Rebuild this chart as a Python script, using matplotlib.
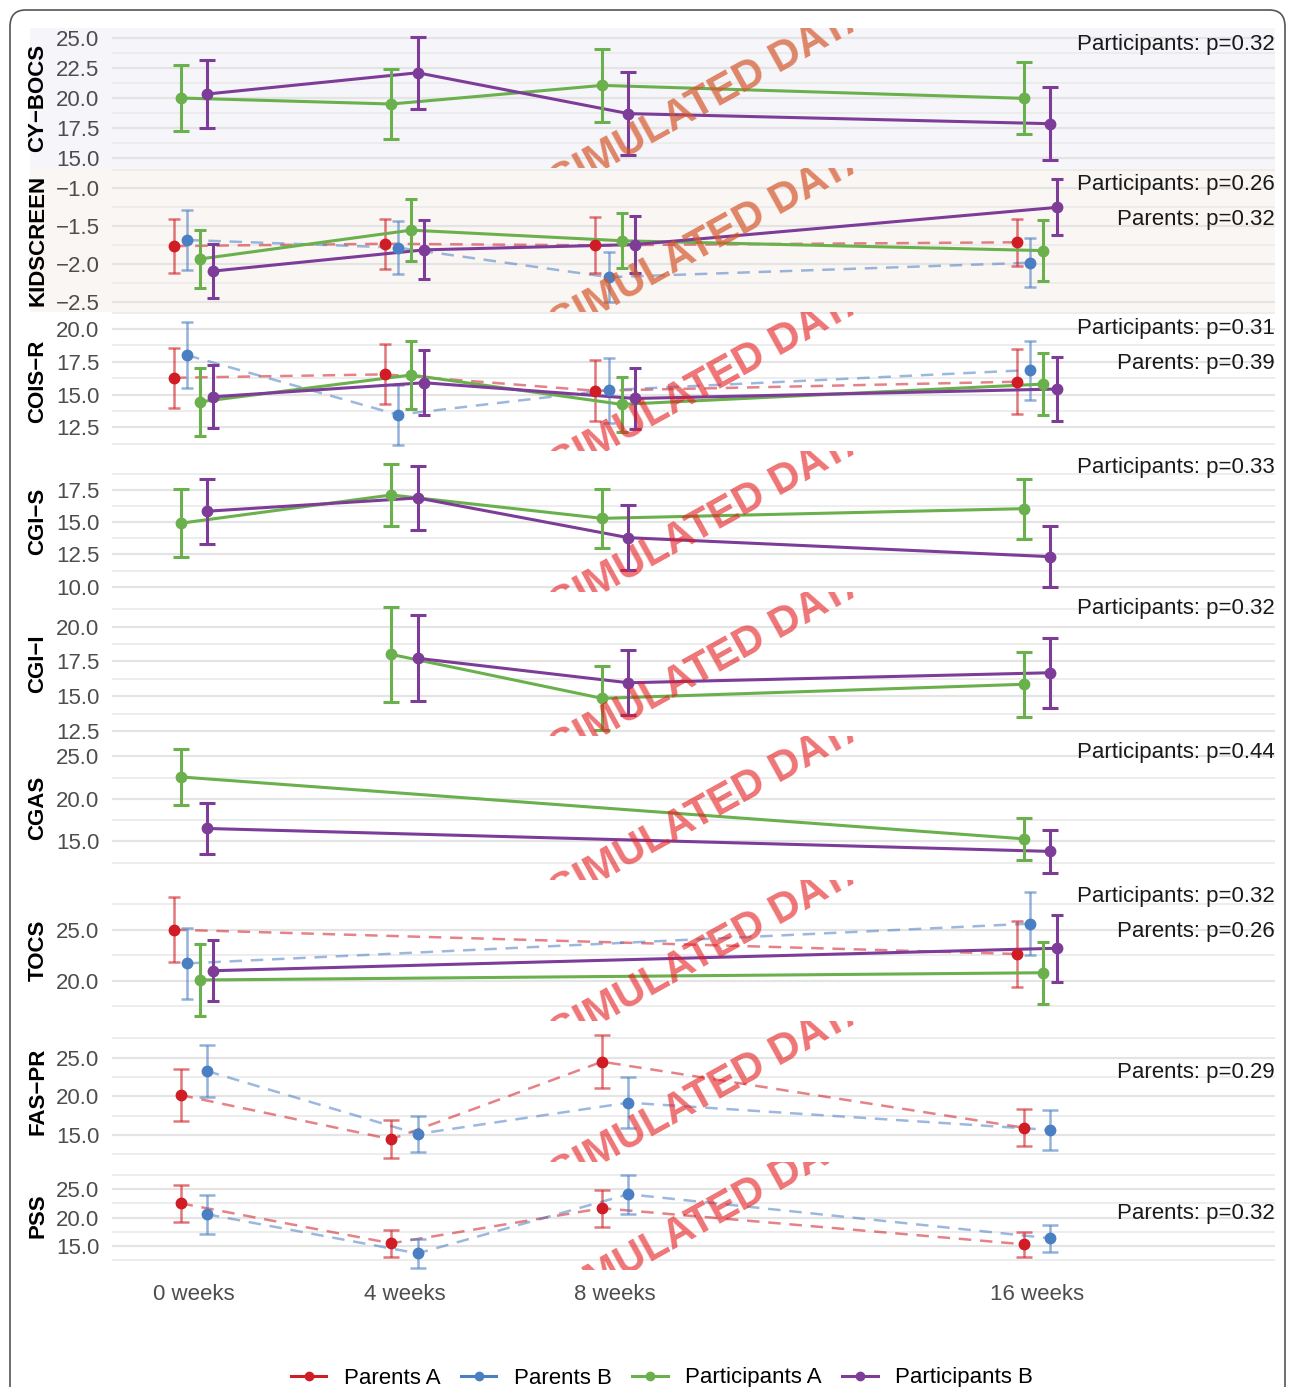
import numpy as np
import matplotlib
matplotlib.use('Agg')
from matplotlib import pyplot as plt
from matplotlib.ticker import FixedLocator, FuncFormatter
from matplotlib.patches import FancyBboxPatch, Rectangle
from matplotlib.lines import Line2D

plt.rcParams['font.family'] = ['Liberation Sans', 'DejaVu Sans']

nan = np.nan

# -------------------------------
# data
# -------------------------------
weeks = [0, 4, 8, 16]
week_labels = ['0 weeks', '4 weeks', '8 weeks', '16 weeks']
groups = ['Parents A', 'Parents B', 'Participants A', 'Participants B']
colors = ['#d01c24', '#4b7fc3', '#6ab04c', '#7d3c98']
measures = ['CY−BOCS', 'KIDSCREEN', 'COIS−R', 'CGI−S', 'CGI−I', 'CGAS', 'TOCS', 'FAS−PR', 'PSS']

# rows: Parents A, Parents B, Participants A, Participants B ; cols: weeks
cybocs_mean = [None, None, [20.0, 19.5, 21.05, 19.97], [20.33, 22.1, 18.7, 17.86]]
cybocs_err = [None, None, [2.75, 2.9, 3.05, 3.0], [2.85, 3.0, 3.45, 3.05]]

kidscreen_mean = [[-1.76, -1.73, -1.75, -1.71], [-1.68, -1.78, -2.17, -1.98],
                  [-1.93, -1.55, -1.69, -1.82], [-2.09, -1.81, -1.74, -1.25]]
kidscreen_err = [[0.36, 0.33, 0.37, 0.31], [0.39, 0.35, 0.33, 0.32],
                 [0.38, 0.41, 0.36, 0.40], [0.36, 0.39, 0.38, 0.37]]

cois_mean = [[16.28, 16.54, 15.29, 15.98], [18.0, 13.46, 15.34, 16.87],
             [14.45, 16.49, 14.25, 15.8], [14.83, 15.9, 14.7, 15.42]]
cois_err = [[2.3, 2.3, 2.33, 2.5], [2.5, 2.3, 2.48, 2.25],
            [2.6, 2.6, 2.1, 2.4], [2.4, 2.5, 2.3, 2.45]]

cgis_mean = [None, None, [14.92, 17.11, 15.3, 16.05], [15.85, 16.88, 13.8, 12.33]]
cgis_err = [None, None, [2.63, 2.39, 2.27, 2.33], [2.52, 2.47, 2.54, 2.37]]

cgii_mean = [None, None, [nan, 18.01, 14.85, 15.86], [nan, 17.73, 15.97, 16.69]]
cgii_err = [None, None, [nan, 3.4, 2.3, 2.33], [nan, 3.1, 2.35, 2.52]]

cgas_mean = [None, None, [22.58, nan, nan, 15.29], [16.51, nan, nan, 13.81]]
cgas_err = [None, None, [3.3, nan, nan, 2.5], [3.0, nan, nan, 2.5]]

tocs_mean = [[25.0, nan, nan, 22.62], [21.7, nan, nan, 25.59],
             [20.07, nan, nan, 20.78], [20.98, nan, nan, 23.18]]
tocs_err = [[3.2, nan, nan, 3.27], [3.5, nan, nan, 3.1],
            [3.5, nan, nan, 3.05], [3.0, nan, nan, 3.28]]

faspr_mean = [[20.17, 14.44, 24.48, 15.94], [23.28, 15.13, 19.18, 15.65], None, None]
faspr_err = [[3.4, 2.44, 3.43, 2.38], [3.36, 2.36, 3.34, 2.55], None, None]

pss_mean = [[22.53, 15.47, 21.65, 15.3], [20.59, 13.7, 24.12, 16.36], None, None]
pss_err = [[3.3, 2.4, 3.3, 2.2], [3.4, 2.58, 3.4, 2.42], None, None]

# p-values (participants, parents), None = not shown
p_participants = [0.32, 0.26, 0.31, 0.33, 0.32, 0.44, 0.32, None, None]
p_parents = [None, 0.32, 0.39, None, None, None, 0.26, 0.29, 0.32]

# labelled y ticks of each panel
yticks = [[15, 17.5, 20, 22.5, 25], [-2.5, -2.0, -1.5, -1.0], [12.5, 15, 17.5, 20],
          [10, 12.5, 15, 17.5], [12.5, 15, 17.5, 20], [15, 20, 25], [20, 25],
          [15, 20, 25], [15, 20, 25]]

all_means = [cybocs_mean, kidscreen_mean, cois_mean, cgis_mean, cgii_mean,
             cgas_mean, tocs_mean, faspr_mean, pss_mean]
all_errs = [cybocs_err, kidscreen_err, cois_err, cgis_err, cgii_err,
            cgas_err, tocs_err, faspr_err, pss_err]

# -------------------------------
# layout (pixels of the 1295x1387 canvas)
# -------------------------------
W, H = 1295, 1387
ax_left, ax_right = 112, 1275
rows_px = [(28, 168), (168, 312), (312, 451), (451, 592), (592, 736),
           (736, 880), (880, 1021), (1021, 1162), (1162, 1270)]
ylims = [(14.17, 25.83), (-2.63, -0.73), (10.69, 21.3), (9.59, 20.52), (12.14, 22.5),
         (10.44, 27.4), (16.05, 29.87), (11.5, 29.75), (10.77, 29.8)]
tints = ['#f5f5fa', '#faf6f4', None, None, None, None, None, None, None]
xlim = (-1.55, 20.52)

minus_fmt = FuncFormatter(lambda v, p: f'{v:.1f}'.replace('-', '\u2212'))

fig = plt.figure(figsize=(W / 100, H / 100), dpi=100)

frame = FancyBboxPatch((10 / W, -0.03), (W - 20) / W, (H - 10) / H + 0.03,
                       boxstyle='round,pad=0,rounding_size=0.012',
                       transform=fig.transFigure, fill=False, ec='#555555', lw=1.2)
fig.add_artist(frame)

for i, (t, b) in enumerate(rows_px):
    if tints[i]:
        fig.add_artist(Rectangle((30 / W, 1 - b / H), (ax_right - 30) / W, (b - t) / H,
                                 transform=fig.transFigure, color=tints[i], zorder=-5, lw=0))

    ax = fig.add_axes([ax_left / W, 1 - b / H, (ax_right - ax_left) / W, (b - t) / H])
    ax.set_facecolor('none')
    for s in ax.spines.values():
        s.set_visible(False)
    ax.set_xlim(*xlim)
    ax.set_ylim(*ylims[i])

    ticks = yticks[i]
    step = ticks[1] - ticks[0]
    minor = np.arange(ticks[0] - step / 2, ticks[-1] + step, step)
    ax.yaxis.set_major_locator(FixedLocator(ticks))
    ax.yaxis.set_minor_locator(FixedLocator(minor))
    ax.yaxis.set_major_formatter(minus_fmt)
    ax.grid(which='major', axis='y', color='#e4e4e4', lw=1.6)
    ax.grid(which='minor', axis='y', color='#ececec', lw=1.3)
    ax.set_axisbelow(True)
    ax.tick_params(which='both', length=0)
    ax.tick_params(axis='y', labelsize=16, labelcolor='#4d4d4d', pad=9)
    ax.set_xticks(weeks)
    if i == len(rows_px) - 1:
        ax.set_xticklabels(week_labels)
        ax.tick_params(axis='x', labelsize=16, labelcolor='#4d4d4d', pad=10)
    else:
        ax.tick_params(axis='x', labelbottom=False)

    means, errs = all_means[i], all_errs[i]
    present = [g for g in range(4) if means[g] is not None]
    n = len(present)
    slot = 1.0 / n
    cap = 4 if n == 4 else 6
    for k, g in enumerate(present):
        off = -0.5 + slot * (k + 0.5)
        x = np.array(weeks, float) + off
        y = np.array(means[g], float)
        e = np.array(errs[g], float)
        ok = ~np.isnan(y)
        if g < 2:
            ax.plot(x[ok], y[ok], color=colors[g], lw=1.8, ls=(0, (5, 3.5)),
                    alpha=0.55, zorder=2)
            ax.errorbar(x[ok], y[ok], yerr=e[ok], fmt='none', ecolor=colors[g],
                        elinewidth=1.8, capsize=cap, capthick=1.8, alpha=0.6, zorder=3)
        else:
            ax.plot(x[ok], y[ok], color=colors[g], lw=2.2, zorder=4)
            ax.errorbar(x[ok], y[ok], yerr=e[ok], fmt='none', ecolor=colors[g],
                        elinewidth=2.2, capsize=cap, capthick=2.2, zorder=5)
        ax.plot(x[ok], y[ok], 'o', color=colors[g], ms=7.5, zorder=6)

    if p_participants[i] is not None:
        ax.annotate(f'Participants: p={p_participants[i]:.2f}', xy=(1, 1),
                    xycoords='axes fraction', xytext=(0, -12), textcoords='offset points',
                    ha='right', va='center', fontsize=16, color='#1a1a1a', zorder=8)
    if p_parents[i] is not None:
        ax.annotate(f'Parents: p={p_parents[i]:.2f}', xy=(1, 1),
                    xycoords='axes fraction', xytext=(0, -37), textcoords='offset points',
                    ha='right', va='center', fontsize=16, color='#1a1a1a', zorder=8)

    # watermark, clipped to the panel
    wm_color, wm_alpha = ('#d4562a', 0.7) if i < 2 else ('#e41a1c', 0.6)
    ax.text(0.515, 0.5, 'SIMULATED DATA', transform=ax.transAxes, rotation=29,
            ha='center', va='center', fontsize=30, fontweight='bold',
            color=wm_color, alpha=wm_alpha, clip_on=True, zorder=7)

    fig.text(38 / W, 1 - (t + b) / 2 / H, measures[i], rotation=90, ha='center',
             va='center', fontsize=16, fontweight='bold', color='black')

handles = [Line2D([], [], color=c, lw=2.2, marker='o', ms=6) for c in colors]
fig.legend(handles, groups, loc='center', bbox_to_anchor=(662 / W, 1 - 1378 / H),
           ncol=4, frameon=False, fontsize=16, handlelength=1.6, handletextpad=0.8,
           columnspacing=0.9)

fig.savefig('out.png', dpi=100, facecolor='white')
